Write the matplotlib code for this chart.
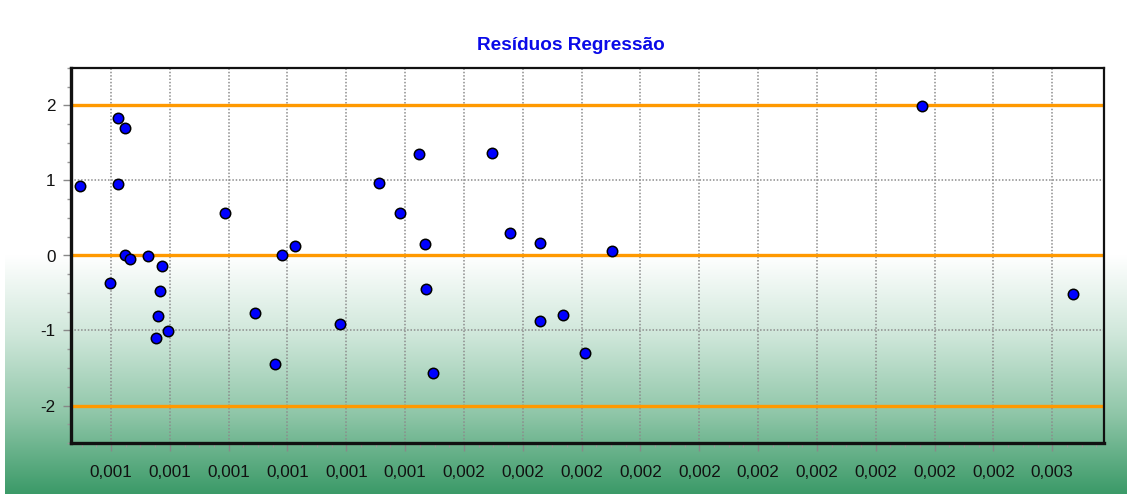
import numpy as np
import matplotlib
matplotlib.use("Agg")
import matplotlib.pyplot as plt
from matplotlib.ticker import FixedLocator, MultipleLocator
from matplotlib.colors import LinearSegmentedColormap

plt.rcParams['font.family'] = ['Liberation Sans', 'DejaVu Sans']

# ---- data ----
x_values = [0.000947, 0.000998, 0.001012, 0.001012, 0.001024, 0.001024, 0.001032,
            0.001063, 0.001086, 0.001083, 0.001080, 0.001097, 0.001077, 0.001194,
            0.001245, 0.001279, 0.001290, 0.001313, 0.001389, 0.001455, 0.001491,
            0.001524, 0.001534, 0.001536, 0.001548, 0.001647, 0.001678, 0.001729,
            0.001729, 0.001769, 0.001805, 0.001851, 0.002378, 0.002636]
residuals = [0.924, -0.364, 1.836, 0.947, 1.702, 0.013, -0.053,
             -0.009, -0.140, -0.476, -0.809, -1.009, -1.098, 0.573,
             -0.764, -1.453, 0.013, 0.124, -0.920, 0.969, 0.569,
             1.347, 0.147, -0.453, -1.564, 1.369, 0.302, 0.169,
             -0.876, -0.787, -1.298, 0.058, 1.991, -0.520]
limit_lines = [2, 0, -2]
x_ticks = [0.0010, 0.0011, 0.0012, 0.0013, 0.0014, 0.0015, 0.0016, 0.0017, 0.0018,
           0.0019, 0.0020, 0.0021, 0.0022, 0.0023, 0.0024, 0.0025, 0.0026]
x_tick_labels = ['0,001', '0,001', '0,001', '0,001', '0,001', '0,001',
                 '0,002', '0,002', '0,002', '0,002', '0,002', '0,002', '0,002',
                 '0,002', '0,002', '0,002', '0,003']
y_ticks = [-2, -1, 0, 1, 2]
y_tick_labels = ['-2', '-1', '0', '1', '2']
title = 'Resíduos Regressão'

W, H = 1127, 494
fig = plt.figure(figsize=(W / 100, H / 100), dpi=100)
fig.patch.set_facecolor('white')

# background gradient
bg = fig.add_axes([0, 0, 1, 1], zorder=0)
bg.set_xlim(0, W)
bg.set_ylim(H, 0)
bg.axis('off')
cmap = LinearSegmentedColormap.from_list('g', ['#ffffff', '#cfe7da', '#8fc6a8', '#3b9a68'])
grad = np.linspace(0, 1, 256).reshape(-1, 1)
bg.imshow(grad, cmap=cmap, aspect='auto', extent=(5, W, H, 255), interpolation='bilinear')

ax = fig.add_axes([71 / W, 1 - 443 / H, (1104 - 71) / W, (443 - 68) / H], zorder=1)
ax.patch.set_alpha(0)

ax.set_xlim(0.000932, 0.002688)
ax.set_ylim(-2.5, 2.5)

ax.xaxis.set_major_locator(FixedLocator(x_ticks))
ax.set_xticklabels(x_tick_labels)
ax.xaxis.set_minor_locator(MultipleLocator(0.000025))
ax.yaxis.set_major_locator(FixedLocator(y_ticks))
ax.set_yticklabels(y_tick_labels)
ax.yaxis.set_minor_locator(MultipleLocator(0.25))

ax.tick_params(which='major', direction='out', length=6, width=1, color='#888888',
               labelsize=12.3, labelcolor='#111111', pad=5)
ax.tick_params(which='minor', direction='out', length=3, width=1, color='#999999')
ax.tick_params(axis='x', which='major', pad=10)

ax.grid(True, which='major', color='#8c8c8c', linestyle=(0, (1, 1.2)), linewidth=1.1, zorder=1)
ax.set_axisbelow(True)

for v in limit_lines:
    ax.axhline(v, color='#FF9900', linewidth=2.4, zorder=2)

ax.plot(x_values, residuals, linestyle='none', marker='o', markersize=7.5,
        markerfacecolor='#0000FF', markeredgecolor='#000000', markeredgewidth=1.1,
        zorder=3, clip_on=False)

for side, lw in [('left', 2.4), ('bottom', 2.4), ('top', 1.6), ('right', 1.6)]:
    ax.spines[side].set_linewidth(lw)
    ax.spines[side].set_color('#111111')

fig.text(571 / W, 1 - 45 / H, title, ha='center', va='center', fontsize=13.7,
         fontweight='bold', color='#0A0AE8')

fig.savefig('out.png', dpi=100)
